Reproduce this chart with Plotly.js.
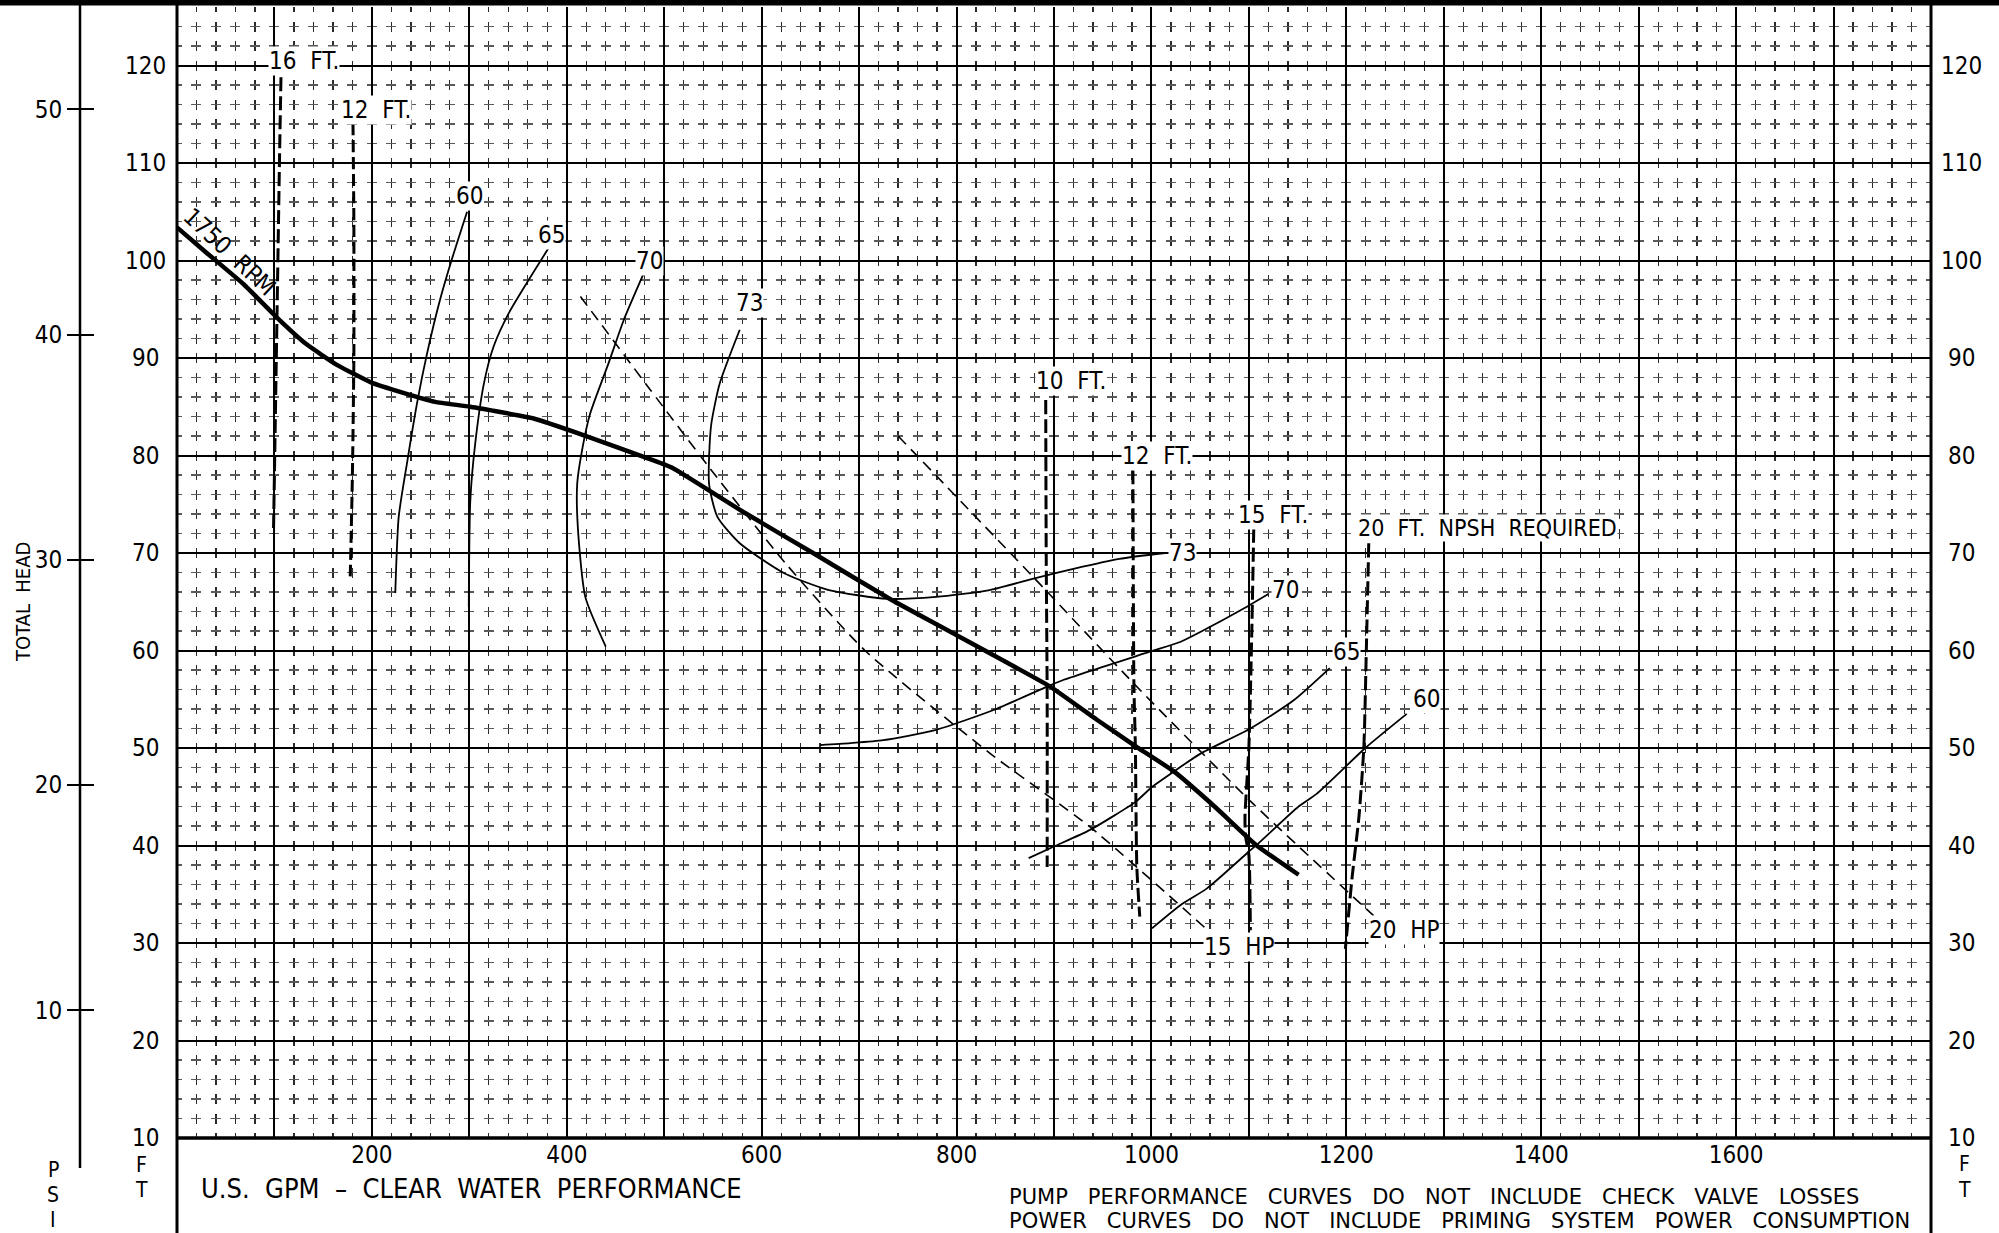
<!DOCTYPE html>
<html><head><meta charset="utf-8">
<script src="https://cdn.plot.ly/plotly-3.0.1.min.js"></script>
<style>html,body{margin:0;padding:0;background:#fff;}#chart{width:1999px;height:1233px;}</style>
</head><body><div id="chart"></div>
<script>
// ---------- DATA (GPM, feet of head) ----------
const xTickLabels = [200, 400, 600, 800, 1000, 1200, 1400, 1600];
const ftTickLabels = [10, 20, 30, 40, 50, 60, 70, 80, 90, 100, 110, 120];
const psiTickLabels = [10, 20, 30, 40, 50];
const FT_PER_PSI = 2.31;

// 1750 RPM head curve
const rpmQ = [0, 29, 68, 102, 133, 164, 199, 233, 265, 301, 366, 417, 486, 509, 583, 651, 733, 794, 896, 944, 985, 1023, 1067, 1108, 1151];
const rpmH = [103.4, 100.9, 97.6, 94.2, 91.4, 89.3, 87.5, 86.4, 85.5, 85.0, 83.8, 82.1, 79.6, 78.7, 74.1, 70.1, 65.2, 61.9, 56.3, 52.9, 50.1, 47.6, 43.8, 40.0, 37.0];

// efficiency curves (%)
const eff60aQ = [224, 227.5, 236, 246.4, 256.7, 270, 282, 297.7];
const eff60aH = [65.9, 73.7, 79.2, 85.4, 90.5, 96, 100.1, 105];
const eff65aQ = [299.4, 301, 306, 315, 325, 340.5, 359, 381.5];
const eff65aH = [64.5, 75.4, 81.2, 87.4, 91.2, 94.6, 97.7, 101.3];
const eff70aQ = [479.5, 458.5, 443, 424, 415.8, 410.7, 411.3, 419, 440];
const eff70aH = [98.8, 93.9, 89.5, 84.3, 80.6, 77.1, 72.7, 65.5, 60.4];
const eff73Q = [577.5, 557, 548, 546, 554.6, 577.5, 623.7, 669, 729, 779, 834, 880, 921, 967, 1014];
const eff73H = [92.9, 87.4, 83, 77.1, 73.7, 71, 67.9, 66.2, 65.3, 65.5, 66.2, 67.4, 68.4, 69.4, 70.0];
const eff70bQ = [660, 691, 725, 777, 838, 893, 910, 999, 1030, 1054, 1091, 1120];
const eff70bH = [50.3, 50.5, 50.8, 51.8, 53.9, 56.3, 57.0, 59.9, 60.9, 62.1, 64.1, 65.8];
const eff65bQ = [874, 900, 937, 984, 1000.5, 1024.6, 1050, 1101.5, 1146, 1183];
const eff65bH = [38.7, 39.9, 41.6, 44.5, 46.0, 47.7, 49.4, 52.0, 54.9, 58.2];
const eff60bQ = [1000.5, 1030, 1057, 1098, 1111.7, 1151, 1169.5, 1219.5, 1262];
const eff60bH = [31.5, 33.9, 35.6, 39.2, 40.4, 44.0, 45.3, 50.0, 53.5];

// horsepower lines
const hp15Q = [414, 486, 546, 624, 706, 835, 937, 1059];
const hp15H = [96.3, 86.7, 78.8, 69, 60, 49.4, 41.9, 31.2];
const hp20Q = [740, 880, 982, 1101, 1228];
const hp20H = [82, 67.4, 56.6, 44.6, 32.8];

// NPSH required lines
const npsh16Q = [106.7, 105.3, 102.6, 99];
const npsh16H = [118.8, 111, 94.2, 72];
const npsh12aQ = [180.6, 181.5, 181.5, 180, 177.8];
const npsh12aH = [114.1, 104, 90, 78, 67.6];
const npsh10Q = [891.5, 892, 893, 893];
const npsh10H = [85.7, 70, 55, 37.8];
const npsh12bQ = [981, 982, 983.5, 985, 988];
const npsh12bH = [78.5, 56.6, 50.1, 37.8, 32.7];
const npsh15Q = [1105, 1103, 1100, 1096, 1096.5, 1100, 1101.5];
const npsh15H = [72.5, 62, 50.1, 43, 41, 39, 31.3];
const npsh20Q = [1223, 1220.5, 1218, 1213, 1206, 1199];
const npsh20H = [71, 60, 50.1, 43, 36.8, 29.4];

// ---------- LAYOUT HELPERS ----------
const W = 1999, H = 1233;
const PL = 177, PR = 1931, PT = 7, PB = 1138;
const px = v => v / W;
const py = v => (PB - v) / (PB - PT);
const FONT = "'Liberation Sans Narrow','DejaVu Sans Condensed','Roboto Condensed','Arial Narrow',sans-serif";
const WIDE = "'DejaVu Sans','Liberation Sans',sans-serif";
const tf = (s, fam) => ({family: fam || FONT, size: s, color: '#000'});

function line(q, h, w, dash, yax, sm) {
  return {type: 'scatter', mode: 'lines', x: q, y: h, yaxis: yax || 'y', hoverinfo: 'skip',
          line: {color: '#000', width: w, dash: dash || 'solid', shape: 'spline', smoothing: sm === undefined ? 0.6 : sm}};
}

const traces = [
  line(npsh16Q, npsh16H, 3, '14px,5px', 'y4'),
  line(npsh12aQ, npsh12aH, 3, '12px,5px', 'y4'),
  line(npsh10Q, npsh10H, 3, '14px,5px', 'y4'),
  line(npsh12bQ, npsh12bH, 3, '14px,5px', 'y4'),
  line(npsh15Q, npsh15H, 3, '14px,5px', 'y4'),
  line(npsh20Q, npsh20H, 3, '14px,5px', 'y4'),
  line(hp15Q, hp15H, 1.6, '11px,7px', 'y2'),
  line(hp20Q, hp20H, 1.6, '11px,7px', 'y2'),
  line(eff60aQ, eff60aH, 1.8),
  line(eff65aQ, eff65aH, 1.8),
  line(eff70aQ, eff70aH, 1.8),
  line(eff73Q, eff73H, 1.8),
  line(eff70bQ, eff70bH, 1.8),
  line(eff65bQ, eff65bH, 1.8),
  line(eff60bQ, eff60bH, 1.8),
  line(rpmQ, rpmH, 4.5, 'solid', 'y', 0.4)
];

const xGrid = [];
for (let v = 0; v <= 1800; v += 100) xGrid.push(v);
const xText = xGrid.map(v => xTickLabels.includes(v) ? String(v) : '');

const minorXpx = (PR - PL) / 90;   // 20 GPM
const minorYpx = (PB - PT) / 58;   // 2 ft
const crossDash = (sp) => `5px,${(sp - 10).toFixed(3)}px,5px,0px`;

const annotations = [];
function lab(text, x, y, opt) {
  annotations.push(Object.assign({text: text, x: x, y: y, xref: 'x', yref: 'y', showarrow: false,
    xanchor: 'left', yanchor: 'middle', font: tf(24), bgcolor: '#fff', borderpad: 0}, opt || {}));
}
// FT tick labels (centered, both sides)
ftTickLabels.forEach(v => {
  lab(String(v), px(145.5), v, {xref: 'paper', xanchor: 'center', bgcolor: 'rgba(0,0,0,0)'});
  lab(String(v), px(1961.5), v, {xref: 'paper', xanchor: 'center', bgcolor: 'rgba(0,0,0,0)'});
});
const S = '\u00a0 ';
const S3 = '\u00a0\u00a0 ';
lab('16' + S + 'FT.', 93.4, 120.5);
lab('12' + S + 'FT.', 167.6, 115.4);
lab('10' + S + 'FT.', 880, 87.6);
lab('12' + S + 'FT.', 969, 79.9);
lab('15' + S + 'FT.', 1088, 73.9);
lab('20' + S + 'FT.' + S + 'NPSH' + S + 'REQUIRED', 1211, 72.6, {font: tf(23)});
lab('15' + S + 'HP', 1053, 29.6);
lab('20' + S + 'HP', 1222.5, 31.3);
lab('60', 285.5, 106.6);
lab('65', 369.5, 102.6);
lab('70', 470.5, 99.9);
lab('73', 573, 95.6);
lab('73', 1017.4, 70.0);
lab('70', 1122.7, 66.2);
lab('65', 1185.3, 59.8);
lab('60', 1267.4, 55.0);
lab('1750' + S + 'RPM', 54, 100.9, {xanchor: 'center', textangle: 43, bgcolor: 'rgba(0,0,0,0)'});
// margin texts
function ptxt(text, x, y, size, opt) {
  annotations.push(Object.assign({text: text, x: px(x), y: py(y), xref: 'paper', yref: 'paper', showarrow: false,
    xanchor: 'center', yanchor: 'middle', font: tf(size)}, opt || {}));
}
const note1 = ['PUMP', 'PERFORMANCE', 'CURVES', 'DO', 'NOT', 'INCLUDE', 'CHECK', 'VALVE', 'LOSSES'];
const note2 = ['POWER', 'CURVES', 'DO', 'NOT', 'INCLUDE', 'PRIMING', 'SYSTEM', 'POWER', 'CONSUMPTION'];
ptxt('U.S.' + S + 'GPM' + S + '\u2013' + S + 'CLEAR' + S + 'WATER' + S + 'PERFORMANCE', 199, 1188, 27, {xanchor: 'left'});
ptxt(note1.join(S3), 1007, 1197, 21, {xanchor: 'left', font: tf(21, WIDE)});
ptxt(note2.join(S3), 1007, 1221, 21, {xanchor: 'left', font: tf(21, WIDE)});
ptxt('F', 141, 1165, 21); ptxt('T', 141, 1190, 21);
ptxt('P', 53, 1170, 21); ptxt('S', 53, 1195, 21); ptxt('I', 53, 1220, 21);
ptxt('F', 1964, 1164, 21); ptxt('T', 1964, 1190, 21);
ptxt('TOTAL' + S + 'HEAD', 23, 602, 20, {textangle: -90});

const shapes = [
  {type: 'rect', xref: 'paper', yref: 'paper', x0: 0, x1: 1, y0: py(5.5), y1: py(0), fillcolor: '#000', line: {width: 0}},
  {type: 'line', xref: 'paper', yref: 'paper', x0: px(PL), x1: px(PL), y0: py(0), y1: py(H), line: {color: '#000', width: 3}},
  {type: 'line', xref: 'paper', yref: 'paper', x0: px(PR), x1: px(PR), y0: py(0), y1: py(H), line: {color: '#000', width: 3}},
  {type: 'line', xref: 'paper', yref: 'paper', x0: px(PL), x1: px(PR), y0: py(PB), y1: py(PB), line: {color: '#000', width: 3.5}},
  {type: 'line', xref: 'paper', yref: 'paper', x0: px(80), x1: px(80), y0: py(0), y1: py(1168), line: {color: '#000', width: 2.5}}
];

const psiVals = psiTickLabels.map(p => p * FT_PER_PSI);
const yBase = {range: [10, 126], showgrid: false, zeroline: false, showline: false, fixedrange: true};

const layout = {
  width: W, height: H,
  margin: {l: 0, r: 0, t: PT, b: H - PB, pad: 0},
  paper_bgcolor: '#fff', plot_bgcolor: '#fff',
  showlegend: false,
  xaxis: {
    domain: [px(PL), px(PR)], range: [0, 1800], tickmode: 'array', tickvals: xGrid, ticktext: xText,
    showgrid: true, gridcolor: '#000', gridwidth: 2, zeroline: false, showline: false,
    ticks: '', ticklen: 0, tickfont: tf(24),
    minor: {tick0: 0, dtick: 20, showgrid: true, gridcolor: '#2a2a2a', gridwidth: 1.3, griddash: crossDash(minorYpx), ticks: ''},
    fixedrange: true
  },
  yaxis: Object.assign({}, yBase, {
    tick0: 0, dtick: 10, showgrid: true, gridcolor: '#000', gridwidth: 2, showticklabels: false,
    minor: {tick0: 0, dtick: 2, showgrid: true, gridcolor: '#5a5a5a', gridwidth: 1.4, griddash: crossDash(minorXpx), ticks: ''}
  }),
  yaxis2: Object.assign({}, yBase, {
    overlaying: 'y', matches: 'y', anchor: 'free', position: px(80), side: 'left',
    tickmode: 'array', tickvals: psiVals, ticktext: psiTickLabels.map(String),
    ticks: 'outside', ticklen: 13, tickwidth: 2, tickcolor: '#000', tickfont: tf(24)
  }),
  yaxis4: Object.assign({}, yBase, {
    overlaying: 'y', matches: 'y', anchor: 'free', position: px(80), side: 'right',
    tickmode: 'array', tickvals: psiVals, showticklabels: false,
    ticks: 'outside', ticklen: 13, tickwidth: 2, tickcolor: '#000'
  }),
  shapes: shapes,
  annotations: annotations
};

Plotly.newPlot('chart', traces, layout, {staticPlot: true, displayModeBar: false});
</script></body></html>
